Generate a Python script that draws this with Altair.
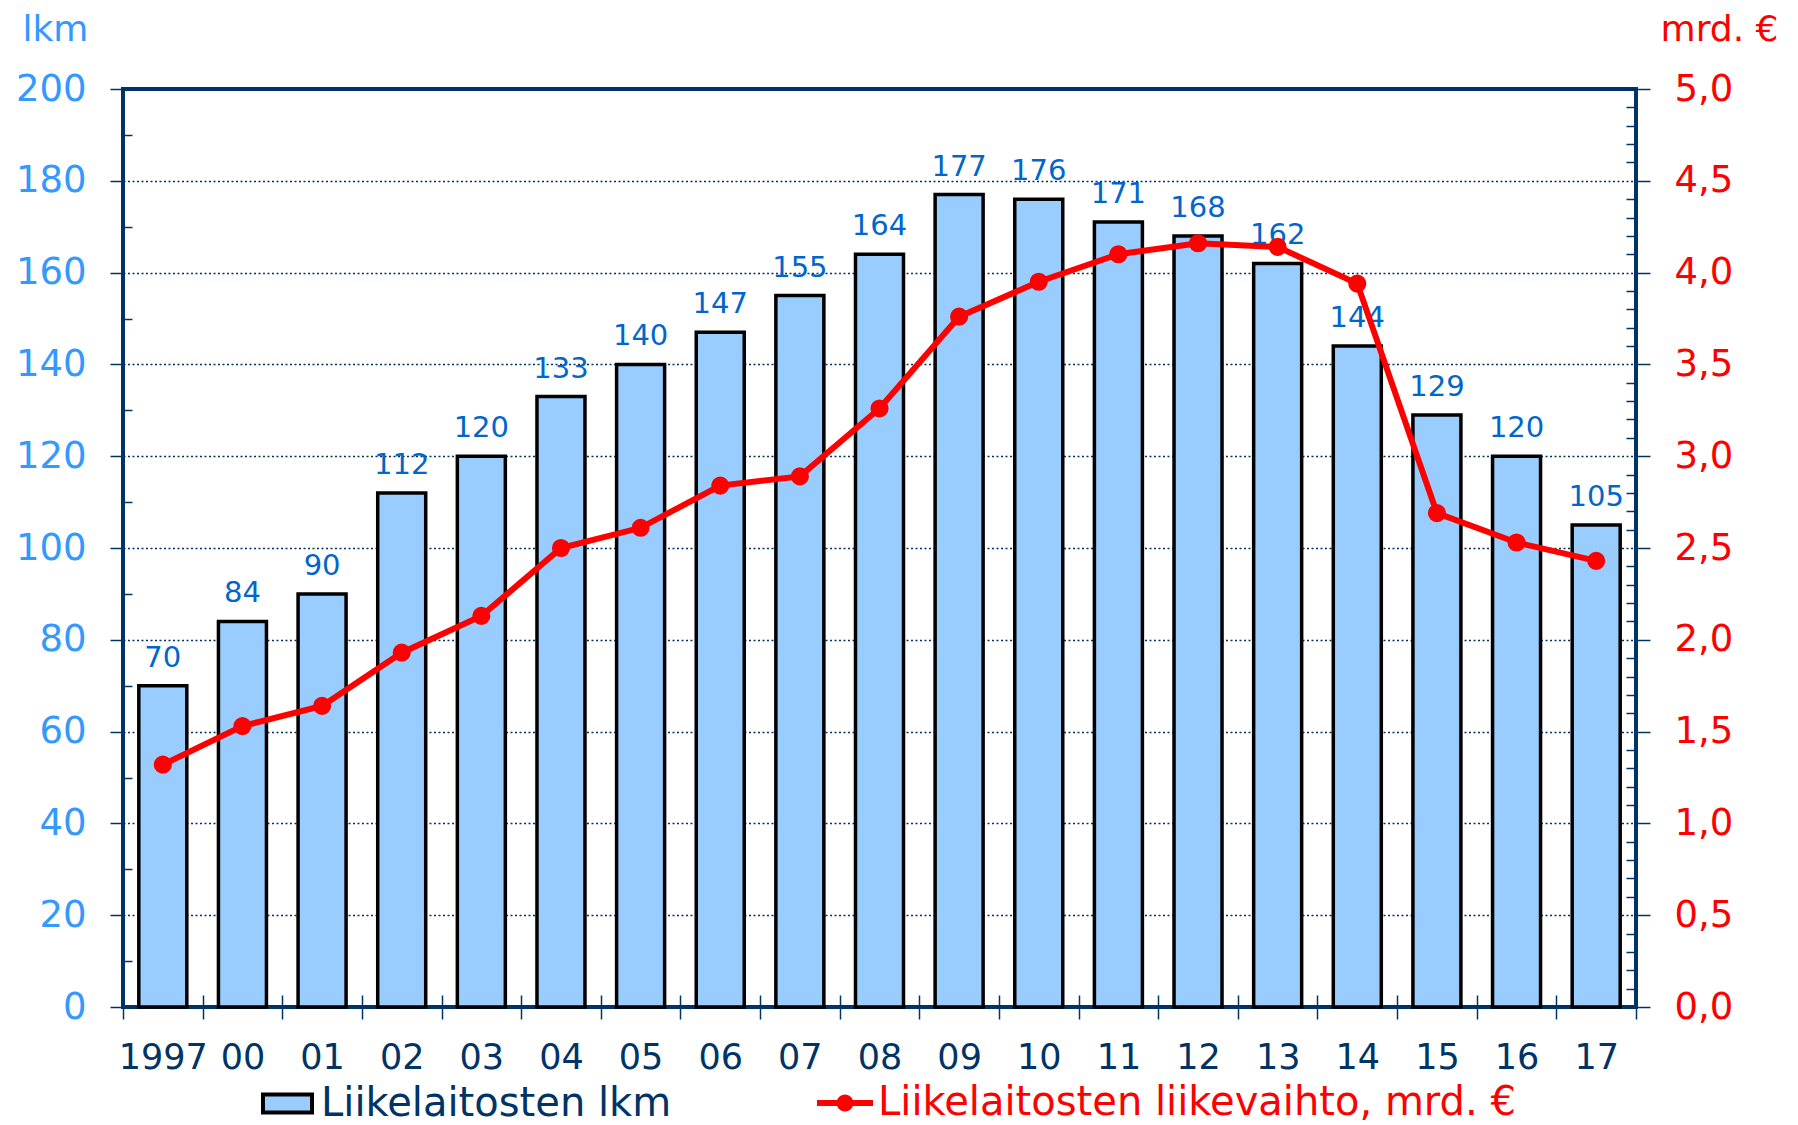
import altair as alt
import pandas as pd

years = ["1997", "00", "01", "02", "03", "04", "05", "06", "07", "08",
         "09", "10", "11", "12", "13", "14", "15", "16", "17"]
count = [70, 84, 90, 112, 120, 133, 140, 147, 155, 164,
         177, 176, 171, 168, 162, 144, 129, 120, 105]
revenue = [1.32, 1.53, 1.64, 1.93, 2.13, 2.50, 2.61, 2.84, 2.89, 3.26,
           3.76, 3.95, 4.10, 4.16, 4.14, 3.94, 2.69, 2.53, 2.43]
left_ticks = [0, 20, 40, 60, 80, 100, 120, 140, 160, 180, 200]
left_minor = [10, 30, 50, 70, 90, 110, 130, 150, 170, 190]
right_ticks = [0.0, 0.5, 1.0, 1.5, 2.0, 2.5, 3.0, 3.5, 4.0, 4.5, 5.0]
right_minor = [round(i * 0.1, 1) for i in range(1, 50) if i % 5]
series1 = "Liikelaitosten lkm"
series2 = "Liikelaitosten liikevaihto, mrd. €"

df = pd.DataFrame({"year": years, "count": count, "rev": revenue,
                   "s1": series1, "s2": series2})

FONT = "DejaVu Sans"
NAVY = "#003366"
RED = "#FF0000"

xenc = alt.X("year:N", sort=years, title=None,
             scale=alt.Scale(paddingInner=0, paddingOuter=0),
             axis=alt.Axis(tickBand="extent", offset=-12, tickSize=24, tickWidth=1.5,
                           tickColor=NAVY, domain=False, labelAngle=0,
                           labelColor=NAVY, labelFontSize=35, labelPadding=21,
                           labelOverlap=False, labelBound=False, labelFlush=False,
                           grid=False))

yleft_scale = alt.Scale(domain=[0, 200], nice=False, zero=True)
yright_scale = alt.Scale(domain=[0, 5], nice=False, zero=True)

bars = alt.Chart(df).mark_bar(size=48, stroke="black", strokeWidth=3.5).encode(
    x=xenc,
    y=alt.Y("count:Q", scale=yleft_scale, title="lkm",
            axis=alt.Axis(orient="left", values=left_ticks, tickSize=13, tickWidth=1.5,
                          tickColor=NAVY, domain=False, labelColor="#3399FF",
                          labelFontSize=37, labelPadding=24,
                          grid=True, gridColor=NAVY, gridDash=[2, 2.5], gridWidth=1.5,
                          titleAngle=0, titleAlign="left", titleBaseline="alphabetic",
                          titleX=-101, titleY=-49, titleColor="#3399FF",
                          titleFontSize=36, titleFontWeight="normal")),
    fill=alt.Fill("s1:N", scale=alt.Scale(domain=[series1], range=["#99CCFF"]),
                  legend=alt.Legend(orient="none", legendX=138, legendY=988, title=None,
                                    symbolType="M-1,-0.37L1,-0.37L1,0.37L-1,0.37Z",
                                    symbolSize=2401, symbolStrokeColor="black",
                                    symbolStrokeWidth=4, labelColor=NAVY,
                                    labelFontSize=40, labelFont=FONT, labelOffset=7,
                                    labelLimit=2000, padding=0)),
)

labels = alt.Chart(df).mark_text(color="#0066CC", fontSize=29, baseline="alphabetic",
                                 dy=-19, font=FONT).encode(
    x=xenc,
    y=alt.Y("count:Q", scale=yleft_scale, title=None,
            axis=alt.Axis(orient="left", values=left_minor, offset=-9, tickSize=9,
                          tickWidth=1.5, tickColor=NAVY, domain=False, labels=False,
                          grid=False)),
    text=alt.Text("count:Q"),
)

line = alt.Chart(df).mark_line(color=RED, strokeWidth=6).encode(
    x=xenc,
    y=alt.Y("rev:Q", scale=yright_scale, title="mrd. €",
            axis=alt.Axis(orient="right", values=right_ticks, tickSize=14, tickWidth=1.5,
                          tickColor=NAVY, domain=False, labelColor=RED,
                          labelFontSize=37, labelPadding=24, grid=False,
                          labelExpr="replace(format(datum.value, '.1f'), '.', ',')",
                          titleAngle=0, titleAlign="right", titleBaseline="alphabetic",
                          titleX=142, titleY=-49, titleColor=RED,
                          titleFontSize=36, titleFontWeight="normal")),
)

points = alt.Chart(df).mark_point(filled=True, size=260, color=RED, opacity=1).encode(
    x=xenc,
    y=alt.Y("rev:Q", scale=yright_scale, title=None,
            axis=alt.Axis(orient="right", values=right_minor, offset=-10, tickSize=10,
                          tickWidth=1.5, tickColor=NAVY, domain=False, labels=False,
                          grid=False)),
    stroke=alt.Stroke("s2:N", scale=alt.Scale(domain=[series2], range=[RED]),
                      legend=alt.Legend(orient="none", legendX=694, legendY=986, title=None,
                                        symbolType="M-1,-0.107L1,-0.107L1,0.107L-1,0.107Z"
                                                   "M-0.3,0A0.3,0.3 0 1,1 0.3,0A0.3,0.3 0 1,1 -0.3,0Z",
                                        symbolSize=3136, symbolFillColor=RED,
                                        symbolStrokeWidth=0, labelColor=RED,
                                        labelFontSize=40, labelFont=FONT, labelOffset=5,
                                        labelLimit=2000, padding=0)),
)

chart = alt.layer(bars, labels, line, points).resolve_scale(
    y="independent", fill="independent", stroke="independent"
).resolve_axis(y="independent").properties(
    width=1513, height=918,
    autosize=alt.AutoSizeParams(type="none"),
    padding={"left": 115, "top": 81, "right": 154, "bottom": 118},
).configure_view(
    stroke=NAVY, strokeWidth=4
).configure_axis(
    labelFont=FONT, titleFont=FONT
).configure_legend(
    labelFont=FONT
)

chart.save("out.html", embed_options={"renderer": "svg", "actions": False})
